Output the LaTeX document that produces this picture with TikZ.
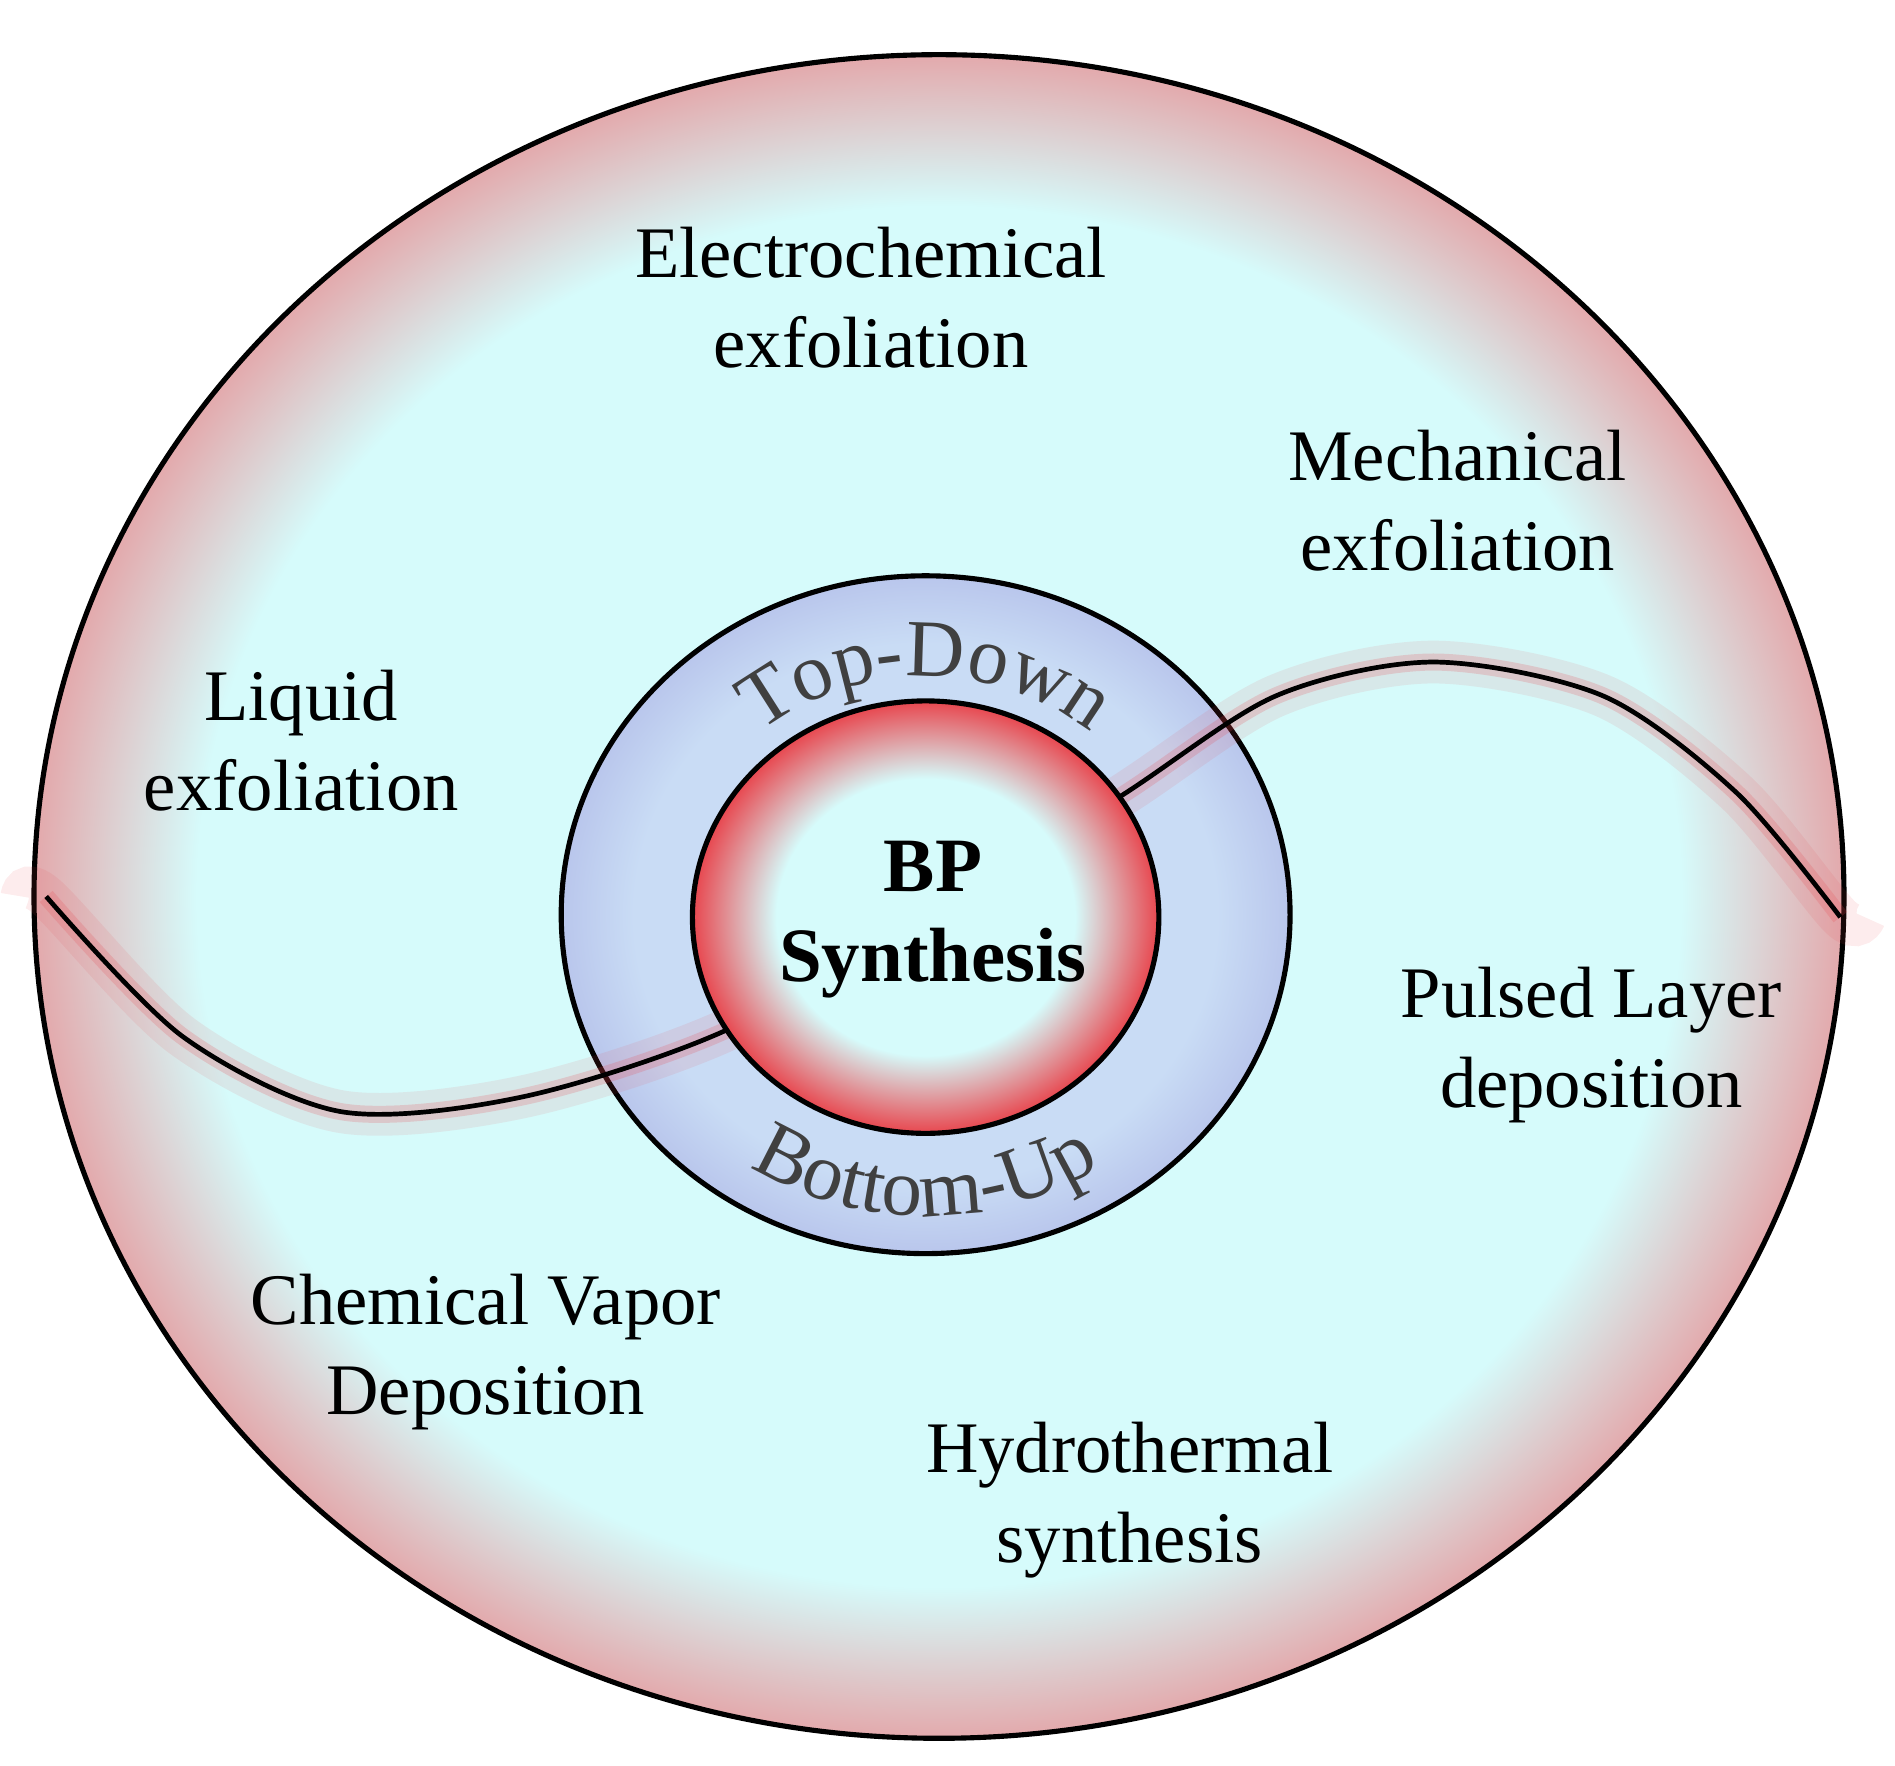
\documentclass[tikz,border=0pt]{standalone}
\usepackage{fontspec}
\setmainfont{Liberation Serif}
\usetikzlibrary{decorations.text}
\definecolor{cyanl}{HTML}{D6FBFB}
\definecolor{pinkr}{HTML}{E3A9AC}
\definecolor{bluel}{HTML}{C9DCF5}
\definecolor{bluer}{HTML}{B9C6EC}
\definecolor{redr}{HTML}{E8464E}
\pgfdeclareradialshading{bigsh}{\pgfpoint{0bp}{0bp}}{color(0bp)=(cyanl); color(20.5bp)=(cyanl); color(25bp)=(pinkr); color(50bp)=(pinkr)}
\pgfdeclareradialshading{midsh}{\pgfpoint{0bp}{0bp}}{color(0bp)=(bluel); color(20bp)=(bluel); color(25bp)=(bluer); color(50bp)=(bluer)}
\pgfdeclareradialshading{insh}{\pgfpoint{0bp}{0bp}}{color(0bp)=(cyanl); color(16bp)=(cyanl); color(25bp)=(redr); color(50bp)=(redr)}
\tikzset{lbl/.style={font=\fontsize{17}{21}\selectfont, align=center},
 ring/.style={draw=black, line width=1.2pt}}
\begin{document}
\begin{tikzpicture}[x=0.01cm,y=0.01cm]
\useasboundingbox (0,0) rectangle (1560,1453);
\path[ring, shading=bigsh] (773,715) ellipse [x radius=745, y radius=693];
\path[ring, shading=midsh] (762,700) ellipse [x radius=300, y radius=279];
\draw[redr, opacity=0.1, line width=10pt] plot[smooth] coordinates {(18,715)(38,715)(150,600)(280,538)(430,550)(598,605)(760,700)(920,796)(1050,880)(1180,908)(1320,880)(1430,800)(1515,698)(1535,698)};
\draw[redr, opacity=0.2, line width=4pt] plot[smooth] coordinates {(38,715)(150,600)(280,538)(430,550)(598,605)(760,700)(920,796)(1050,880)(1180,908)(1320,880)(1430,800)(1515,698)};
\draw[line width=1.1pt] plot[smooth] coordinates {(38,715)(150,600)(280,538)(430,550)(598,605)(760,700)(920,796)(1050,880)(1180,908)(1320,880)(1430,800)(1515,698)};
\path[ring, shading=insh] (762,698) ellipse [x radius=192, y radius=178];
\node[lbl, font=\fontsize{18}{21}\selectfont\bfseries] (bp) at (768,696) {BP\\Synthesis};
\path[decorate, decoration={text along path, text={|\fontsize{19}{22}\selectfont\color{black!75}|Top-Down}, text align=center}] (762,698) ++(155:212 and 198) arc[start angle=155, end angle=25, x radius=212, y radius=198];
\path[decorate, decoration={text along path, text={|\fontsize{19}{22}\selectfont\color{black!75}|Bottom-Up}, text align=center}] (762,698) ++(200:262 and 246) arc[start angle=200, end angle=340, x radius=262, y radius=246];
\node[lbl] (ec) at (717,1208) {Electrochemical\\exfoliation};
\node[lbl] (me) at (1200,1041) {Mechanical\\exfoliation};
\node[lbl] (le) at (248,843) {Liquid\\exfoliation};
\node[lbl] (pl) at (1310,593) {Pulsed Layer\\deposition};
\node[lbl] (cv) at (400,340) {Chemical Vapor\\Deposition};
\node[lbl] (hs) at (930,218) {Hydrothermal\\synthesis};
\end{tikzpicture}
\end{document}
